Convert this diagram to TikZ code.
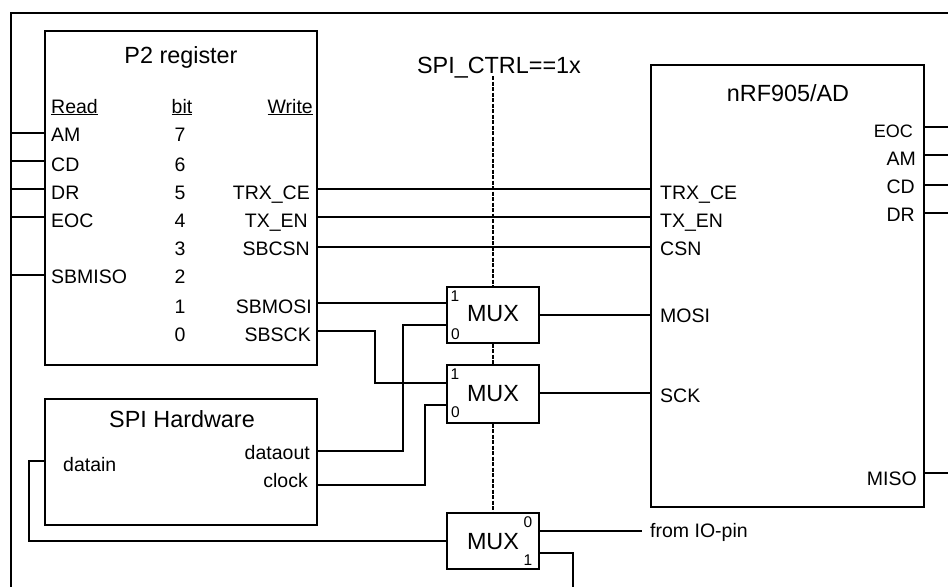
\documentclass[tikz,border=0pt]{standalone}
\usepackage{fontspec}
\setmainfont{Liberation Sans}
\usetikzlibrary{positioning}
\tikzset{
    wire/.style={line width=1.4pt},
    ctrl/.style={line width=1.4pt, dash pattern=on 4pt off 1.5pt},
    block/.style={draw, line width=1.4pt, inner sep=0pt, fill=white},
    title/.style={inner sep=0pt, anchor=base, font=\fontsize{23.4}{25}\selectfont},
    pinl/.style={inner sep=0pt, anchor=base west, font=\fontsize{19.5}{21}\selectfont},
    pinr/.style={inner sep=0pt, anchor=base east, font=\fontsize{19.5}{21}\selectfont},
    bitno/.style={inner sep=0pt, anchor=base, font=\fontsize{19.5}{21}\selectfont},
    muxno/.style={inner sep=0pt, anchor=base, font=\fontsize{15.5}{17}\selectfont},
}
\begin{document}
\begin{tikzpicture}[x=1pt,y=-1pt]
    \useasboundingbox (0,0) rectangle (948,587);
    \coordinate (frame) at (11,13);
    \coordinate (pageend) at (948,587);

    \node[block, minimum width=272pt, minimum height=334pt] (reg) at (181,198) {};
    \node[block, minimum width=272pt, minimum height=126pt] (spi) at (181,462) {};
    \node[block, minimum width=273pt, minimum height=442pt] (nrf) at (787.5,286) {};
    \node[block, minimum width=92pt, minimum height=56pt] (muxa) at (493,315) {};
    \node[block, minimum width=92pt, minimum height=58pt] (muxb) at (493,394) {};
    \node[block, minimum width=92pt, minimum height=56pt] (muxc) at (493,541) {};

    \node[title] (regname) at (181,63) {P2 register};
    \node[title] (spiname) at (182,427) {SPI Hardware};
    \node[title] (nrfname) at (788,101) {nRF905/AD};
    \node[title] (ctrlname) at (499,73) {SPI\_CTRL==1x};
    \node[title] (muxaname) at (493,321) {MUX};
    \node[title] (muxbname) at (493,401) {MUX};
    \node[title] (muxcname) at (493,549) {MUX};

    \node[pinl] (readhead) at (51,113) {\underline{Read}};
    \node[bitno] (bithead) at (182,113) {\underline{bit}};
    \node[pinr] (writehead) at (313,113) {\underline{Write}};
    \foreach \bitval/\ypos in {7/141,6/171,5/199,4/227,3/255,2/283,1/313,0/341}
        \node[bitno] (bit\bitval) at (180,\ypos) {\bitval};

    \node[pinl] (regam) at (51,141) {AM};
    \node[pinl] (regcd) at (51,171) {CD};
    \node[pinl] (regdr) at (51,199) {DR};
    \node[pinl] (regeoc) at (51,227) {EOC};
    \node[pinl] (regmiso) at (51,283) {SBMISO};
    \node[pinr] (regce) at (310,199) {TRX\_CE};
    \node[pinr] (regen) at (308,227) {TX\_EN};
    \node[pinr] (regcsn) at (310,255) {SBCSN};
    \node[pinr] (regmosi) at (312,313) {SBMOSI};
    \node[pinr] (regsck) at (311,341) {SBSCK};

    \node[pinl] (spiin) at (63,471) {datain};
    \node[pinr] (spiout) at (310,459) {dataout};
    \node[pinr] (spiclk) at (308,487) {clock};

    \node[pinl] (nrfce) at (660,199) {TRX\_CE};
    \node[pinl] (nrfen) at (660,227) {TX\_EN};
    \node[pinl] (nrfcsn) at (660,255) {CSN};
    \node[pinl] (nrfmosi) at (660,322) {MOSI};
    \node[pinl] (nrfsck) at (660,402) {SCK};
    \node[pinr, font=\fontsize{18}{20}\selectfont] (nrfeoc) at (913,137) {EOC};
    \node[pinr] (nrfam) at (916,165) {AM};
    \node[pinr] (nrfcd) at (915,193) {CD};
    \node[pinr] (nrfdr) at (915,221) {DR};
    \node[pinr] (nrfmiso) at (917,485) {MISO};
    \node[pinl] (iopin) at (650,537) {from IO-pin};

    \node[muxno] (muxaone) at (455,301) {1};
    \node[muxno] (muxazero) at (455.5,339) {0};
    \node[muxno] (muxbone) at (455,379) {1};
    \node[muxno] (muxbzero) at (455.5,417) {0};
    \node[muxno] (muxczero) at (528,527) {0};
    \node[muxno] (muxcone) at (528,565) {1};

    \coordinate (ctrltop) at (493,76);
    \coordinate (ioend) at (642,531);
    \coordinate (misodown) at (573,553);
    \coordinate (inturn) at (29,461);
    \coordinate (inlow) at (29,541);
    \coordinate (sckmid) at (375,331);
    \coordinate (outmid) at (403,451);
    \coordinate (clkmid) at (425,485);

    \draw[wire] (pageend |- frame) -- (frame) -- (frame |- pageend);
    \foreach \ypos in {133,161,189,217,275}
        \draw[wire] (frame |- 0,\ypos) -- (reg.west |- 0,\ypos);
    \draw[wire] (reg.east |- 0,189) -- (nrf.west |- 0,189);
    \draw[wire] (reg.east |- 0,217) -- (nrf.west |- 0,217);
    \draw[wire] (reg.east |- 0,247) -- (nrf.west |- 0,247);
    \draw[wire] (reg.east |- 0,303) -- (muxa.west |- 0,303);
    \draw[wire] (reg.east |- sckmid) -- (sckmid) |- (muxb.west |- 0,383);
    \draw[wire] (spi.east |- outmid) -- (outmid) |- (muxa.west |- 0,325);
    \draw[wire] (spi.east |- clkmid) -- (clkmid) |- (muxb.west |- 0,405);
    \draw[wire] (muxa.east) -- (nrf.west |- muxa.east);
    \draw[wire] (muxb.east |- 0,393) -- (nrf.west |- 0,393);
    \draw[wire] (muxc.west) -- (inlow) -- (inturn) -- (spi.west |- inturn);
    \draw[wire] (muxc.east |- ioend) -- (ioend);
    \draw[wire] (muxc.east |- misodown) -- (misodown) -- (misodown |- pageend);
    \foreach \ypos in {127,155,185,213,473}
        \draw[wire] (nrf.east |- 0,\ypos) -- (pageend |- 0,\ypos);

    \draw[ctrl] (ctrltop) -- (muxa.north);
    \draw[ctrl] (muxa.south) -- (muxb.north);
    \draw[ctrl] (muxb.south) -- (muxc.north);
\end{tikzpicture}
\end{document}
